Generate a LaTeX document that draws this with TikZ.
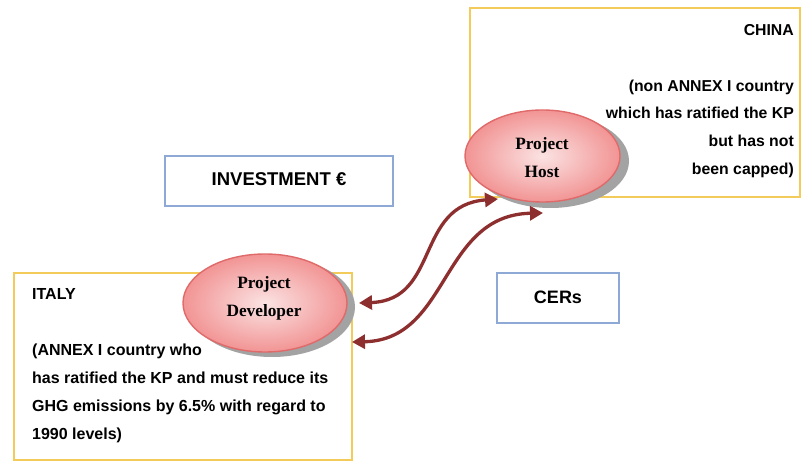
\documentclass[tikz,border=0pt]{standalone}
\usepackage{fontspec}
\setmainfont{Liberation Sans}
\newfontfamily\ellfont{Liberation Serif}
\usetikzlibrary{arrows.meta,shapes.geometric}
\definecolor{gold}{HTML}{F3CB5A}
\definecolor{boxblue}{HTML}{8EA9D6}
\definecolor{ellborder}{HTML}{E06A6A}
\definecolor{ellouter}{HTML}{F29494}
\definecolor{ellinner}{HTML}{FBE3E3}
\definecolor{shadowgray}{HTML}{A3A3A3}
\definecolor{arrowred}{HTML}{8E2F2F}
\tikzset{
  countrybox/.style={draw=gold, line width=1.4pt},
  labelbox/.style={draw=boxblue, line width=1.3pt},
  txt/.style={inner sep=0pt, font=\bfseries\fontsize{15.8}{18}\selectfont},
  italytxt/.style={txt, font=\bfseries\fontsize{16}{18}\selectfont, anchor=base west},
  ellnode/.style={ellipse, draw=ellborder, line width=1.4pt, shading=radial,
    inner color=ellinner, outer color=ellouter, inner sep=0pt},
  ellshadow/.style={ellipse, fill=shadowgray, draw=none, inner sep=0pt},
  elltxt/.style={inner sep=0pt, font=\ellfont\bfseries\fontsize{17.3}{19}\selectfont},
  flow/.style={draw=arrowred, line width=3.3pt,
    {Triangle[length=13pt,width=14pt]}-{Triangle[length=13pt,width=14pt]}},
}
\begin{document}
\begin{tikzpicture}[x=1pt,y=-1pt]
\useasboundingbox (0,0) rectangle (801,462);
\fill[white] (0,0) rectangle (801,462);

% country boxes
\draw[countrybox] (470,8) rectangle (800,197);
\draw[countrybox] (14,273) rectangle (352,460);

% China text
\node[txt, anchor=base east] (chinaT) at (794,36) {CHINA};
\node[txt, anchor=base east] (chinaL1) at (794,92) {(non ANNEX I country};
\node[txt, anchor=base east] (chinaL2) at (794,119) {which has ratified the KP};
\node[txt, anchor=base east] (chinaL3) at (794,147) {but has not};
\node[txt, anchor=base east] (chinaL4) at (794,175) {been capped)};

% Italy text
\node[italytxt] (italyT) at (32,300) {ITALY};
\node[italytxt] (italyL1) at (32,356) {(ANNEX I country who};
\node[italytxt] (italyL2) at (32,384) {has ratified the KP and must reduce its};
\node[italytxt] (italyL3) at (32,412) {GHG emissions by 6.5\% with regard to};
\node[italytxt] (italyL4) at (32,439) {1990 levels)};

% label boxes
\draw[labelbox] (165,156) rectangle (393,206);
\node[txt, font=\bfseries\fontsize{18.5}{20}\selectfont, anchor=base] (invT) at (279,186) {INVESTMENT €};
\draw[labelbox] (497,273) rectangle (619,323);
\node[txt, font=\bfseries\fontsize{18}{20}\selectfont, anchor=base] (cerT) at (558,304) {CERs};

% ellipses with shadows
\node[ellshadow, minimum width=157pt, minimum height=94pt] (hostS) at (550.5,161) {};
\node[ellnode, minimum width=155pt, minimum height=92pt] (host) at (542.5,156) {};
\node[elltxt, anchor=base] (hostL1) at (542,150) {Project};
\node[elltxt, anchor=base] (hostL2) at (542,178) {Host};

\node[ellshadow, minimum width=166pt, minimum height=100pt] (devS) at (272,307) {};
\node[ellnode, minimum width=164pt, minimum height=98pt] (dev) at (265,303) {};
\node[elltxt, anchor=base] (devL1) at (264,289) {Project};
\node[elltxt, anchor=base] (devL2) at (264,317) {Developer};

% connectors
\coordinate (a1s) at (359,303);
\coordinate (a1e) at (498,199);
\coordinate (a2s) at (352,342);
\coordinate (a2e) at (543,213);
\draw[flow] (a1s) .. controls (440,300) and (415,205) .. (a1e);
\draw[flow] (a2s) .. controls (450,340) and (440,215) .. (a2e);
\end{tikzpicture}
\end{document}
